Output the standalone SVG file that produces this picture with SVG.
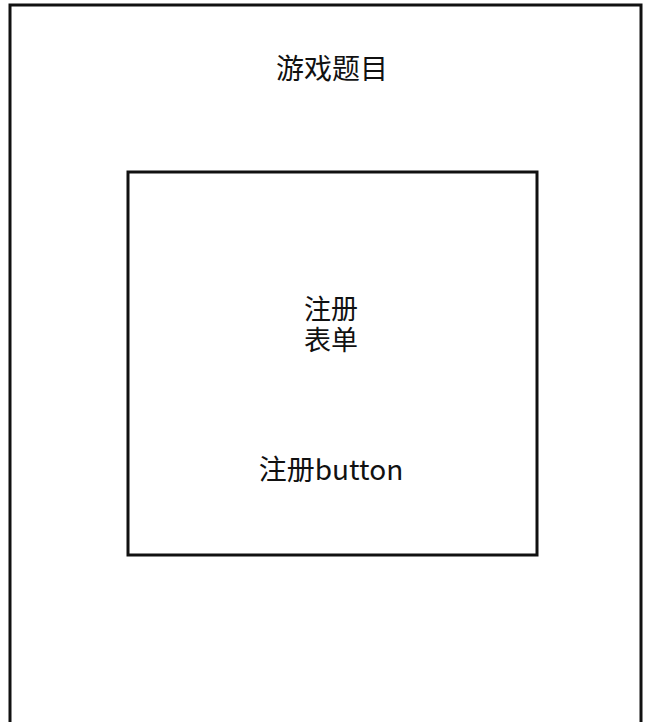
<svg xmlns="http://www.w3.org/2000/svg" width="645" height="722" viewBox="0 0 645 722">
<style>
.box{fill:none;stroke:#111;stroke-width:3}
.t{font-family:"Noto Sans CJK SC","Noto Sans",sans-serif;font-size:28px;fill:#111;text-anchor:middle}
.s{font-size:27px}
</style>
<rect width="645" height="722" fill="#fff"/>
<g id="page">
<rect class="box" x="10" y="5" width="631" height="730"/>
<text class="t" x="332" y="79">游戏题目</text>
</g>
<g id="form">
<rect class="box" x="128" y="172" width="409" height="383"/>
<text class="t s" x="331" y="319"><tspan x="331">注册</tspan><tspan x="331" dy="31">表单</tspan></text>
<text class="t" x="331" y="480">注册button</text>
</g>
<g id="connectors"/>
</svg>
